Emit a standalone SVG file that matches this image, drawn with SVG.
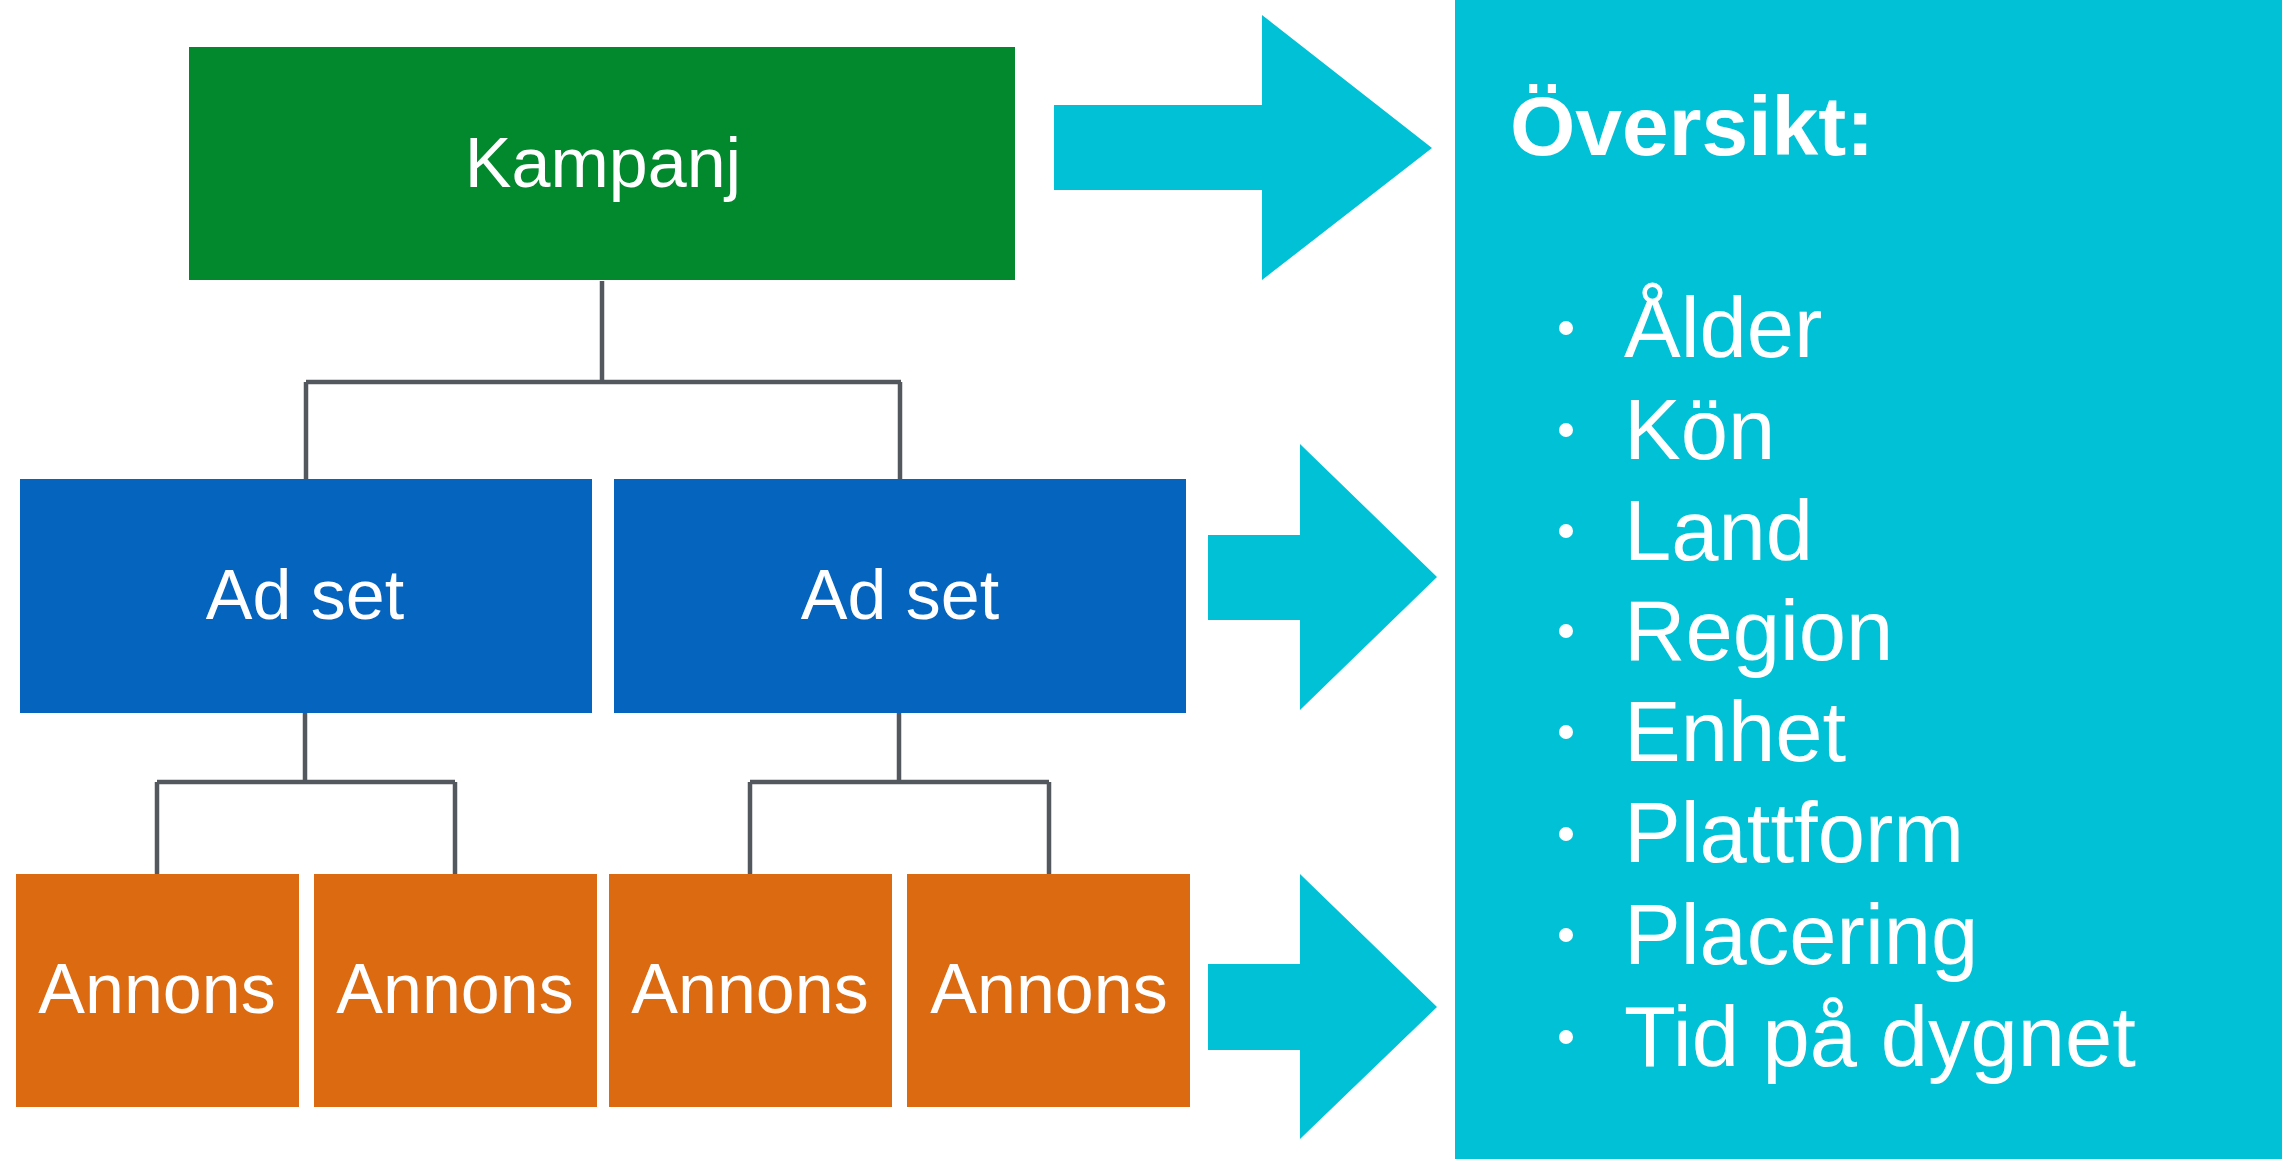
<svg xmlns="http://www.w3.org/2000/svg" width="2282" height="1159" viewBox="0 0 2282 1159">
<style>
.lbl{font-family:"Liberation Sans",Arial,sans-serif;font-size:70px;fill:#fff;text-anchor:middle}
.item{font-family:"Liberation Sans",Arial,sans-serif;font-size:85px;fill:#fff}
.title{font-family:"Liberation Sans",Arial,sans-serif;font-size:84px;font-weight:bold;fill:#fff}
.conn{fill:none;stroke:#53575E;stroke-width:4.5}
.arrow{fill:#00C1D5}
</style>
<rect width="2282" height="1159" fill="#fff"/>
<g id="connectors">
<path class="conn" d="M602,281 V382 M306,382 H901 M306,382 V479 M900,382 V479"/>
<path class="conn" d="M305,713 V782 M157,782 H455 M157,782 V874 M455,782 V874"/>
<path class="conn" d="M899,713 V782 M750,782 H1049 M750,782 V874 M1049,782 V874"/>
</g>
<g id="kampanj"><rect x="189" y="47" width="826" height="233" fill="#02882D"/><text class="lbl" x="603" y="187">Kampanj</text></g>
<g id="adset1"><rect x="20" y="479" width="572" height="234" fill="#0565BE"/><text class="lbl" x="305" y="619">Ad set</text></g>
<g id="adset2"><rect x="614" y="479" width="572" height="234" fill="#0565BE"/><text class="lbl" x="900" y="619">Ad set</text></g>
<g id="annons1"><rect x="16" y="874" width="283" height="233" fill="#DC6A10"/><text class="lbl" x="157" y="1013">Annons</text></g>
<g id="annons2"><rect x="314" y="874" width="283" height="233" fill="#DC6A10"/><text class="lbl" x="455" y="1013">Annons</text></g>
<g id="annons3"><rect x="609" y="874" width="283" height="233" fill="#DC6A10"/><text class="lbl" x="750" y="1013">Annons</text></g>
<g id="annons4"><rect x="907" y="874" width="283" height="233" fill="#DC6A10"/><text class="lbl" x="1049" y="1013">Annons</text></g>
<g id="arrow1"><polygon class="arrow" points="1054,105 1262,105 1262,15 1432,148 1262,280 1262,190 1054,190"/></g>
<g id="arrow2"><polygon class="arrow" points="1208,535 1300,535 1300,444 1437,577 1300,710 1300,620 1208,620"/></g>
<g id="arrow3"><polygon class="arrow" points="1208,964 1300,964 1300,874 1437,1007 1300,1139 1300,1050 1208,1050"/></g>
<g id="oversikt">
<rect x="1455" y="0" width="827" height="1159" fill="#00C1D5"/>
<text class="title" x="1510" y="155">Översikt:</text>
<g fill="#fff">
<circle cx="1566" cy="328" r="7"/><circle cx="1566" cy="430" r="7"/><circle cx="1566" cy="531" r="7"/><circle cx="1566" cy="631" r="7"/>
<circle cx="1566" cy="732" r="7"/><circle cx="1566" cy="834" r="7"/><circle cx="1566" cy="935" r="7"/><circle cx="1566" cy="1037" r="7"/>
</g>
<text class="item" x="1624" y="357">Ålder</text>
<text class="item" x="1624" y="459">Kön</text>
<text class="item" x="1624" y="560">Land</text>
<text class="item" x="1624" y="660">Region</text>
<text class="item" x="1624" y="761">Enhet</text>
<text class="item" x="1624" y="862">Plattform</text>
<text class="item" x="1624" y="964">Placering</text>
<text class="item" x="1624" y="1066">Tid på dygnet</text>
</g>
</svg>
